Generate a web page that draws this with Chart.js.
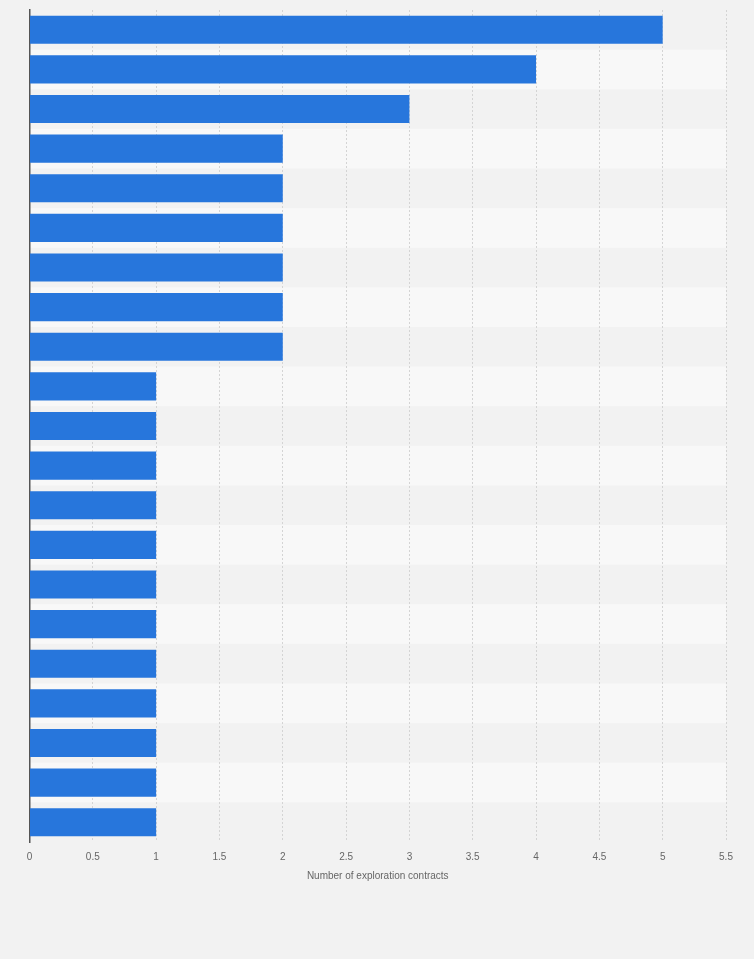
<!DOCTYPE html>
<html>
<head>
<meta charset="utf-8">
<script src="https://cdn.jsdelivr.net/npm/chart.js@4"></script>
<style>
  html, body { margin: 0; padding: 0; background: #f2f2f2; }
  #wrap { width: 754px; height: 959px; position: relative; }
</style>
</head>
<body>
<div id="wrap"><canvas id="chart"></canvas></div>
<script>
// categories are not labelled in the picture
const categories = ['', '', '', '', '', '', '', '', '', '', '', '', '', '', '', '', '', '', '', '', ''];
const contracts = [5, 4, 3, 2, 2, 2, 2, 2, 2, 1, 1, 1, 1, 1, 1, 1, 1, 1, 1, 1, 1];
const xTicks = [0, 0.5, 1, 1.5, 2, 2.5, 3, 3.5, 4, 4.5, 5, 5.5];

// alternating row stripes, drawn before grid and bars
const rowBands = {
  id: 'rowBands',
  beforeDraw(chart) {
    const { ctx, chartArea, scales } = chart;
    const y = scales.y;
    const step = (chartArea.bottom - chartArea.top) / categories.length;
    ctx.save();
    categories.forEach((c, i) => {
      if (i % 2 === 1) {
        const mid = y.getPixelForValue(i);
        ctx.fillStyle = '#f8f8f8';
        ctx.fillRect(chartArea.left, mid - step / 2, chartArea.right - chartArea.left, step);
      }
    });
    ctx.restore();
  }
};

new Chart(document.getElementById('chart').getContext('2d'), {
  type: 'bar',
  data: {
    labels: categories,
    datasets: [{
      data: contracts,
      backgroundColor: '#2776dc',
      borderWidth: 0,
      barPercentage: 0.71,
      categoryPercentage: 1
    }]
  },
  options: {
    indexAxis: 'y',
    responsive: true,
    maintainAspectRatio: false,
    animation: false,
    layout: { padding: { top: 10, right: 28, bottom: 77, left: 0 } },
    plugins: {
      legend: { display: false },
      tooltip: { enabled: false }
    },
    scales: {
      x: {
        min: 0,
        max: 5.5,
        afterBuildTicks: (scale) => { scale.ticks = xTicks.map(v => ({ value: v })); },
        afterFit: (scale) => { scale.height = 40; },
        ticks: {
          padding: 9,
          color: '#666',
          font: { family: 'Liberation Sans, Arial, sans-serif', size: 10 },
          maxRotation: 0,
          callback: (v) => String(v)
        },
        grid: {
          drawTicks: false,
          color: (c) => c.tick && c.tick.value === 0 ? 'rgba(0,0,0,0)' : '#d4d4d4',
          lineWidth: 1
        },
        border: { display: false, dash: [2, 2] },
        title: {
          display: true,
          text: 'Number of exploration contracts',
          color: '#666',
          font: { family: 'Liberation Sans, Arial, sans-serif', size: 10 },
          padding: { top: 6, bottom: 0 }
        }
      },
      y: {
        afterFit: (scale) => { scale.width = 29.5; },
        ticks: { display: false },
        grid: { display: false, drawTicks: false },
        border: { display: true, color: '#555', width: 1.5 }
      }
    }
  },
  plugins: [rowBands]
});
</script>
</body>
</html>
